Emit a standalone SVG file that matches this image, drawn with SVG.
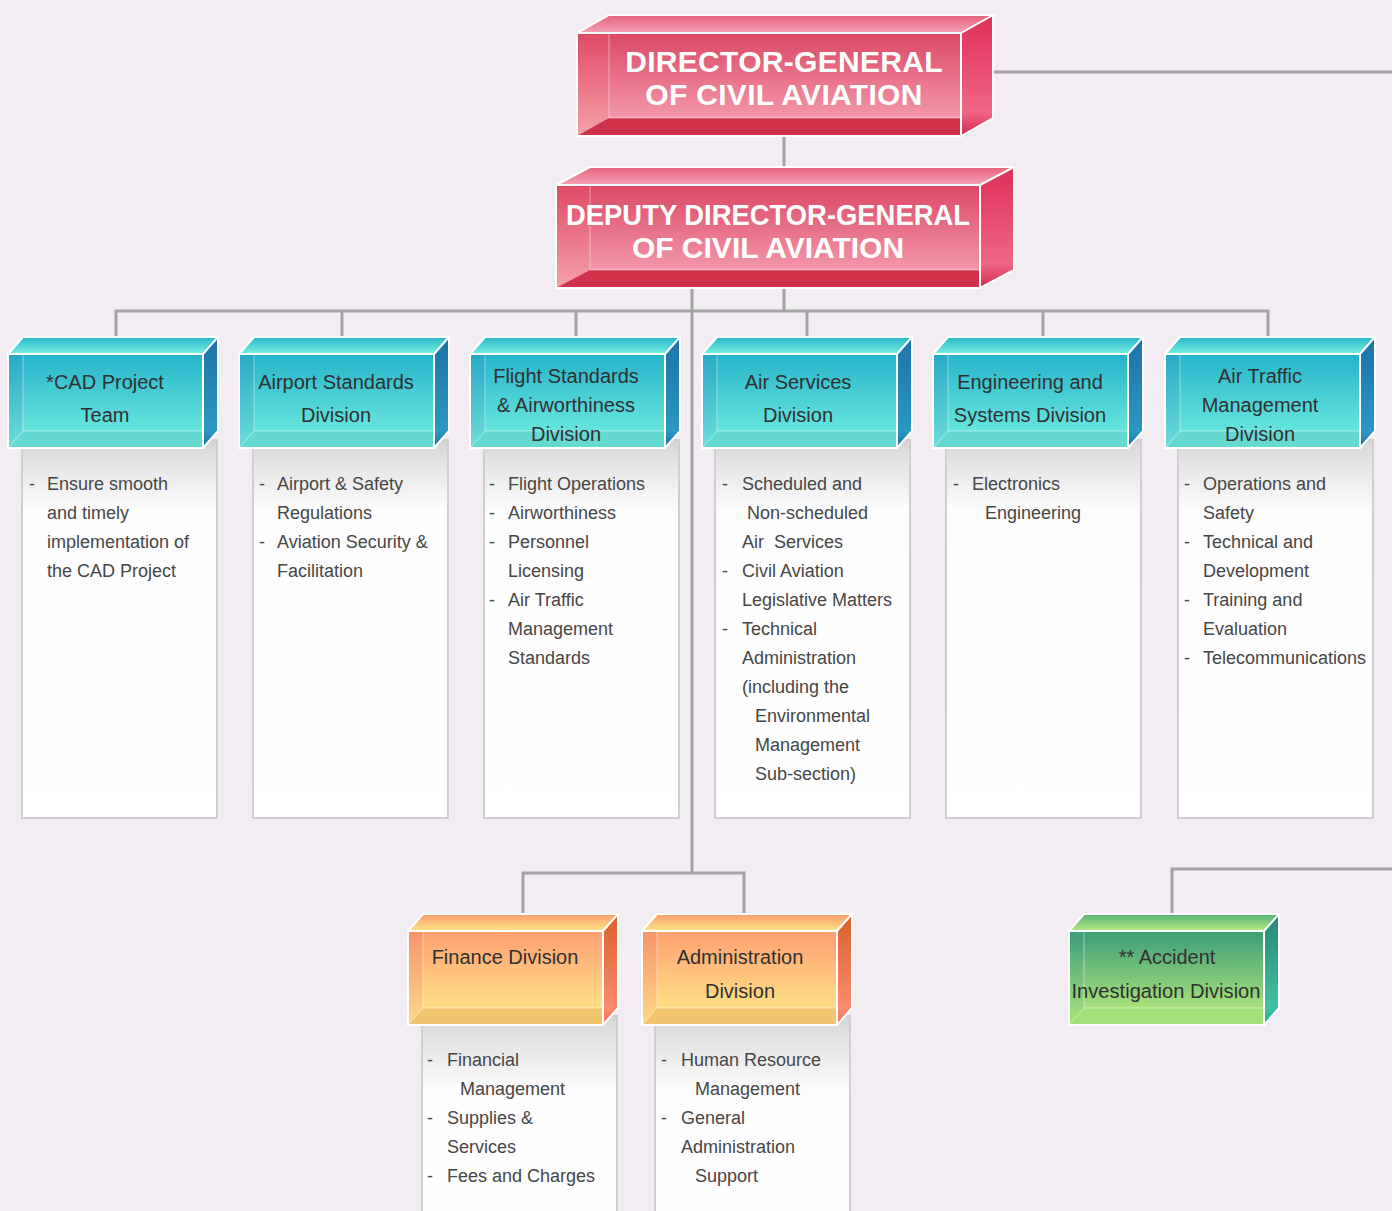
<svg xmlns="http://www.w3.org/2000/svg" xmlns:xlink="http://www.w3.org/1999/xlink" width="1392" height="1211" viewBox="0 0 1392 1211">
<defs>
<style>
.bg{fill:#f1edf2}
.ln{fill:none;stroke:#a3a3a3;stroke-width:3}
.edge{fill:none;stroke:#ffffff;stroke-width:2;stroke-linejoin:miter}
.back{fill:none;stroke:#ffffff;stroke-opacity:0.45;stroke-width:1}
.panel{stroke:#cfcfcf;stroke-width:2}
.hd{font-family:"Liberation Sans",Arial,Helvetica,sans-serif;font-weight:bold;font-size:30px;fill:#ffffff}
.tt{font-family:"Liberation Sans",Arial,Helvetica,sans-serif;font-size:20px;fill:#303030;text-anchor:middle}
.pt{font-family:"Liberation Sans",Arial,Helvetica,sans-serif;font-size:18px;fill:#464646}
</style>
<linearGradient id="panelG" x1="0" y1="0" x2="0" y2="1"><stop offset="0" stop-color="#d5d5d5"/><stop offset="0.07" stop-color="#e6e6e6"/><stop offset="0.19" stop-color="#fdfdfd"/><stop offset="1" stop-color="#ffffff"/></linearGradient>
<linearGradient id="panelG2" x1="0" y1="0" x2="0" y2="1"><stop offset="0" stop-color="#d5d5d5"/><stop offset="0.14" stop-color="#e6e6e6"/><stop offset="0.36" stop-color="#fdfdfd"/><stop offset="1" stop-color="#ffffff"/></linearGradient>
<linearGradient id="pFront" x1="0" y1="0" x2="0" y2="1"><stop offset="0" stop-color="#db4865"/><stop offset="1" stop-color="#f8a8b8"/></linearGradient>
<linearGradient id="pTop" x1="0" y1="0" x2="0" y2="1"><stop offset="0" stop-color="#e46279"/><stop offset="1" stop-color="#f6a2b6"/></linearGradient>
<linearGradient id="pRight" x1="0" y1="0" x2="0" y2="1"><stop offset="0" stop-color="#de2f58"/><stop offset="0.8" stop-color="#f06686"/><stop offset="1" stop-color="#d42a4c"/></linearGradient>
<linearGradient id="pLeft" x1="0" y1="0" x2="0" y2="1"><stop offset="0" stop-color="#e04a64"/><stop offset="1" stop-color="#f5a0a6"/></linearGradient>
<linearGradient id="bFront" x1="0" y1="0" x2="0" y2="1"><stop offset="0" stop-color="#26b3cb"/><stop offset="1" stop-color="#74f0e0"/></linearGradient>
<linearGradient id="bTop" x1="0" y1="0" x2="0" y2="1"><stop offset="0" stop-color="#28b6ca"/><stop offset="1" stop-color="#78efe0"/></linearGradient>
<linearGradient id="bRight" x1="0" y1="0" x2="0" y2="1"><stop offset="0" stop-color="#1d72a8"/><stop offset="0.85" stop-color="#2b98c0"/><stop offset="1" stop-color="#1a6fa8"/></linearGradient>
<linearGradient id="bLeft" x1="0" y1="0" x2="0" y2="1"><stop offset="0" stop-color="#2aa6c6"/><stop offset="1" stop-color="#6ad8d8"/></linearGradient>
<linearGradient id="oFront" x1="0" y1="0" x2="0" y2="1"><stop offset="0" stop-color="#ff9f72"/><stop offset="1" stop-color="#ffee8a"/></linearGradient>
<linearGradient id="oTop" x1="0" y1="0" x2="0" y2="1"><stop offset="0" stop-color="#f99c6c"/><stop offset="1" stop-color="#ffe486"/></linearGradient>
<linearGradient id="oRight" x1="0" y1="0" x2="0" y2="1"><stop offset="0" stop-color="#d95f2e"/><stop offset="0.85" stop-color="#fb8c6e"/><stop offset="1" stop-color="#ef6c56"/></linearGradient>
<linearGradient id="oLeft" x1="0" y1="0" x2="0" y2="1"><stop offset="0" stop-color="#f4916a"/><stop offset="1" stop-color="#fdd486"/></linearGradient>
<linearGradient id="gFront" x1="0" y1="0" x2="0" y2="1"><stop offset="0" stop-color="#3c9d78"/><stop offset="1" stop-color="#bff07a"/></linearGradient>
<linearGradient id="gTop" x1="0" y1="0" x2="0" y2="1"><stop offset="0" stop-color="#58b27a"/><stop offset="1" stop-color="#b4ea80"/></linearGradient>
<linearGradient id="gRight" x1="0" y1="0" x2="0" y2="1"><stop offset="0" stop-color="#2a8676"/><stop offset="0.85" stop-color="#42c2a0"/><stop offset="1" stop-color="#12a89c"/></linearGradient>
<linearGradient id="gLeft" x1="0" y1="0" x2="0" y2="1"><stop offset="0" stop-color="#3e9c7c"/><stop offset="1" stop-color="#a8e27e"/></linearGradient>

<g id="boxBlue">
 <rect x="0" y="0" width="195" height="94" fill="url(#bFront)"/>
 <path d="M0,0H15V77L0,94Z" fill="url(#bLeft)" opacity="0.8"/>
 <path d="M0,94L15,77H195V94Z" fill="#64d9d2"/>
 <path class="back" d="M15,0V77H195M15,77L0,94"/>
 <path d="M0,0L15,-17H210L195,0Z" fill="url(#bTop)"/>
 <path d="M195,0L210,-17V77L195,94Z" fill="url(#bRight)"/>
 <path class="edge" d="M0,0L15,-17H210L195,0M210,-17V77L195,94"/>
 <rect class="edge" x="0" y="0" width="195" height="94"/>
</g>
<g id="boxOrange">
 <rect x="0" y="0" width="195" height="94" fill="url(#oFront)"/>
 <path d="M0,0H15V77L0,94Z" fill="url(#oLeft)" opacity="0.8"/>
 <path d="M0,94L15,77H195V94Z" fill="#f2c46e"/>
 <path class="back" d="M15,0V77H195M15,77L0,94" stroke="#f0a0a0" stroke-opacity="0.8"/>
 <path d="M0,0L15,-17H210L195,0Z" fill="url(#oTop)"/>
 <path d="M195,0L210,-17V77L195,94Z" fill="url(#oRight)"/>
 <path class="edge" d="M0,0L15,-17H210L195,0M210,-17V77L195,94"/>
 <rect class="edge" x="0" y="0" width="195" height="94"/>
</g>
<g id="boxGreen">
 <rect x="0" y="0" width="195" height="94" fill="url(#gFront)"/>
 <path d="M0,0H15V77L0,94Z" fill="url(#gLeft)" opacity="0.8"/>
 <path d="M0,94L15,77H195V94Z" fill="#a4e07a"/>
 <path class="back" d="M15,0V77H195M15,77L0,94" stroke="#6aa89a" stroke-opacity="0.8"/>
 <path d="M0,0L15,-17H210L195,0Z" fill="url(#gTop)"/>
 <path d="M195,0L210,-17V77L195,94Z" fill="url(#gRight)"/>
 <path class="edge" d="M0,0L15,-17H210L195,0M210,-17V77L195,94"/>
 <rect class="edge" x="0" y="0" width="195" height="94"/>
</g>
</defs>

<rect class="bg" x="0" y="0" width="1392" height="1211"/>

<g id="connectors">
 <path class="ln" d="M993,72H1392"/>
 <path class="ln" d="M784,136V168"/>
 <path class="ln" d="M784,288V311"/>
 <path class="ln" d="M692,288V873"/>
 <path class="ln" d="M116,338V311H1268V338"/>
 <path class="ln" d="M342,311V338M576,311V338M807,311V338M1043,311V338"/>
 <path class="ln" d="M523,914V873H744V914"/>
 <path class="ln" d="M1172,913V869H1392"/>
</g>

<g id="node-dg">
 <rect x="577" y="33" width="384" height="103" fill="url(#pFront)"/>
 <path d="M577,33H609V118L577,136Z" fill="url(#pLeft)" opacity="0.75"/>
 <path d="M577,136L609,118H961V136Z" fill="#d0324b"/>
 <path class="back" d="M609,33V118H961"/>
 <path d="M577,33L609,15H993L961,33Z" fill="url(#pTop)"/>
 <path d="M961,33L993,15V118L961,136Z" fill="url(#pRight)"/>
 <path class="edge" d="M577,33L609,15H993L961,33M993,15V118L961,136"/>
 <rect class="edge" x="577" y="33" width="384" height="103"/>
 <text class="hd" x="784" y="72" text-anchor="middle" letter-spacing="0.3">DIRECTOR-GENERAL</text>
 <text class="hd" x="784" y="105" text-anchor="middle" letter-spacing="0.3">OF CIVIL AVIATION</text>
</g>

<g id="node-ddg">
 <rect x="556" y="185" width="424" height="103" fill="url(#pFront)"/>
 <path d="M556,185H590V270L556,288Z" fill="url(#pLeft)" opacity="0.75"/>
 <path d="M556,288L590,270H980V288Z" fill="#d0324b"/>
 <path class="back" d="M590,185V270H980"/>
 <path d="M556,185L590,167H1014L980,185Z" fill="url(#pTop)"/>
 <path d="M980,185L1014,167V270L980,288Z" fill="url(#pRight)"/>
 <path class="edge" d="M556,185L590,167H1014L980,185M1014,167V270L980,288"/>
 <rect class="edge" x="556" y="185" width="424" height="103"/>
 <text class="hd" x="768" y="225" text-anchor="middle" textLength="404" lengthAdjust="spacingAndGlyphs">DEPUTY DIRECTOR-GENERAL</text>
 <text class="hd" x="768" y="258" text-anchor="middle">OF CIVIL AVIATION</text>
</g>

<g id="node-cad">
 <rect class="panel" x="22" y="440" width="195" height="378" fill="url(#panelG)"/>
 <use xlink:href="#boxBlue" transform="translate(8,354)"/>
 <text class="tt" x="105" y="389">*CAD Project</text>
 <text class="tt" x="105" y="422">Team</text>
 <text class="pt" x="29" y="490">-</text>
 <text class="pt" x="47" y="490">Ensure smooth</text>
 <text class="pt" x="47" y="519">and timely</text>
 <text class="pt" x="47" y="548">implementation of</text>
 <text class="pt" x="47" y="577">the CAD Project</text>
</g>

<g id="node-airport">
 <rect class="panel" x="253" y="440" width="195" height="378" fill="url(#panelG)"/>
 <use xlink:href="#boxBlue" transform="translate(239,354)"/>
 <text class="tt" x="336" y="389">Airport Standards</text>
 <text class="tt" x="336" y="422">Division</text>
 <text class="pt" x="259" y="490">-</text>
 <text class="pt" x="277" y="490">Airport &amp; Safety</text>
 <text class="pt" x="277" y="519">Regulations</text>
 <text class="pt" x="259" y="548">-</text>
 <text class="pt" x="277" y="548">Aviation Security &amp;</text>
 <text class="pt" x="277" y="577">Facilitation</text>
</g>

<g id="node-flight">
 <rect class="panel" x="484" y="440" width="195" height="378" fill="url(#panelG)"/>
 <use xlink:href="#boxBlue" transform="translate(470,354)"/>
 <text class="tt" x="566" y="383">Flight Standards</text>
 <text class="tt" x="566" y="412">&amp; Airworthiness</text>
 <text class="tt" x="566" y="441">Division</text>
 <text class="pt" x="489" y="490">-</text>
 <text class="pt" x="508" y="490">Flight Operations</text>
 <text class="pt" x="489" y="519">-</text>
 <text class="pt" x="508" y="519">Airworthiness</text>
 <text class="pt" x="489" y="548">-</text>
 <text class="pt" x="508" y="548">Personnel</text>
 <text class="pt" x="508" y="577">Licensing</text>
 <text class="pt" x="489" y="606">-</text>
 <text class="pt" x="508" y="606">Air Traffic</text>
 <text class="pt" x="508" y="635">Management</text>
 <text class="pt" x="508" y="664">Standards</text>
</g>

<g id="node-airservices">
 <rect class="panel" x="715" y="440" width="195" height="378" fill="url(#panelG)"/>
 <use xlink:href="#boxBlue" transform="translate(702,354)"/>
 <text class="tt" x="798" y="389">Air Services</text>
 <text class="tt" x="798" y="422">Division</text>
 <text class="pt" x="722" y="490">-</text>
 <text class="pt" x="742" y="490">Scheduled and</text>
 <text class="pt" x="747" y="519">Non-scheduled</text>
 <text class="pt" x="742" y="548" xml:space="preserve">Air  Services</text>
 <text class="pt" x="722" y="577">-</text>
 <text class="pt" x="742" y="577">Civil Aviation</text>
 <text class="pt" x="742" y="606">Legislative Matters</text>
 <text class="pt" x="722" y="635">-</text>
 <text class="pt" x="742" y="635">Technical</text>
 <text class="pt" x="742" y="664">Administration</text>
 <text class="pt" x="742" y="693">(including the</text>
 <text class="pt" x="755" y="722">Environmental</text>
 <text class="pt" x="755" y="751">Management</text>
 <text class="pt" x="755" y="780">Sub-section)</text>
</g>

<g id="node-engineering">
 <rect class="panel" x="946" y="440" width="195" height="378" fill="url(#panelG)"/>
 <use xlink:href="#boxBlue" transform="translate(933,354)"/>
 <text class="tt" x="1030" y="389">Engineering and</text>
 <text class="tt" x="1030" y="422">Systems Division</text>
 <text class="pt" x="953" y="490">-</text>
 <text class="pt" x="972" y="490">Electronics</text>
 <text class="pt" x="985" y="519">Engineering</text>
</g>

<g id="node-atm">
 <rect class="panel" x="1178" y="440" width="195" height="378" fill="url(#panelG)"/>
 <use xlink:href="#boxBlue" transform="translate(1165,354)"/>
 <text class="tt" x="1260" y="383">Air Traffic</text>
 <text class="tt" x="1260" y="412">Management</text>
 <text class="tt" x="1260" y="441">Division</text>
 <text class="pt" x="1184" y="490">-</text>
 <text class="pt" x="1203" y="490">Operations and</text>
 <text class="pt" x="1203" y="519">Safety</text>
 <text class="pt" x="1184" y="548">-</text>
 <text class="pt" x="1203" y="548">Technical and</text>
 <text class="pt" x="1203" y="577">Development</text>
 <text class="pt" x="1184" y="606">-</text>
 <text class="pt" x="1203" y="606">Training and</text>
 <text class="pt" x="1203" y="635">Evaluation</text>
 <text class="pt" x="1184" y="664">-</text>
 <text class="pt" x="1203" y="664">Telecommunications</text>
</g>

<g id="node-finance">
 <rect class="panel" x="422" y="1016" width="195" height="210" fill="url(#panelG2)"/>
 <use xlink:href="#boxOrange" transform="translate(408,931)"/>
 <text class="tt" x="505" y="964">Finance Division</text>
 <text class="pt" x="427" y="1066">-</text>
 <text class="pt" x="447" y="1066">Financial</text>
 <text class="pt" x="460" y="1095">Management</text>
 <text class="pt" x="427" y="1124">-</text>
 <text class="pt" x="447" y="1124">Supplies &amp;</text>
 <text class="pt" x="447" y="1153">Services</text>
 <text class="pt" x="427" y="1182">-</text>
 <text class="pt" x="447" y="1182">Fees and Charges</text>
</g>

<g id="node-admin">
 <rect class="panel" x="655" y="1016" width="195" height="210" fill="url(#panelG2)"/>
 <use xlink:href="#boxOrange" transform="translate(642,931)"/>
 <text class="tt" x="740" y="964">Administration</text>
 <text class="tt" x="740" y="998">Division</text>
 <text class="pt" x="661" y="1066">-</text>
 <text class="pt" x="681" y="1066">Human Resource</text>
 <text class="pt" x="695" y="1095">Management</text>
 <text class="pt" x="661" y="1124">-</text>
 <text class="pt" x="681" y="1124">General</text>
 <text class="pt" x="681" y="1153">Administration</text>
 <text class="pt" x="695" y="1182">Support</text>
</g>

<g id="node-accident">
 <use xlink:href="#boxGreen" transform="translate(1069,931)"/>
 <text class="tt" x="1167" y="964">** Accident</text>
 <text class="tt" x="1166" y="998" textLength="189" lengthAdjust="spacingAndGlyphs">Investigation Division</text>
</g>
</svg>
